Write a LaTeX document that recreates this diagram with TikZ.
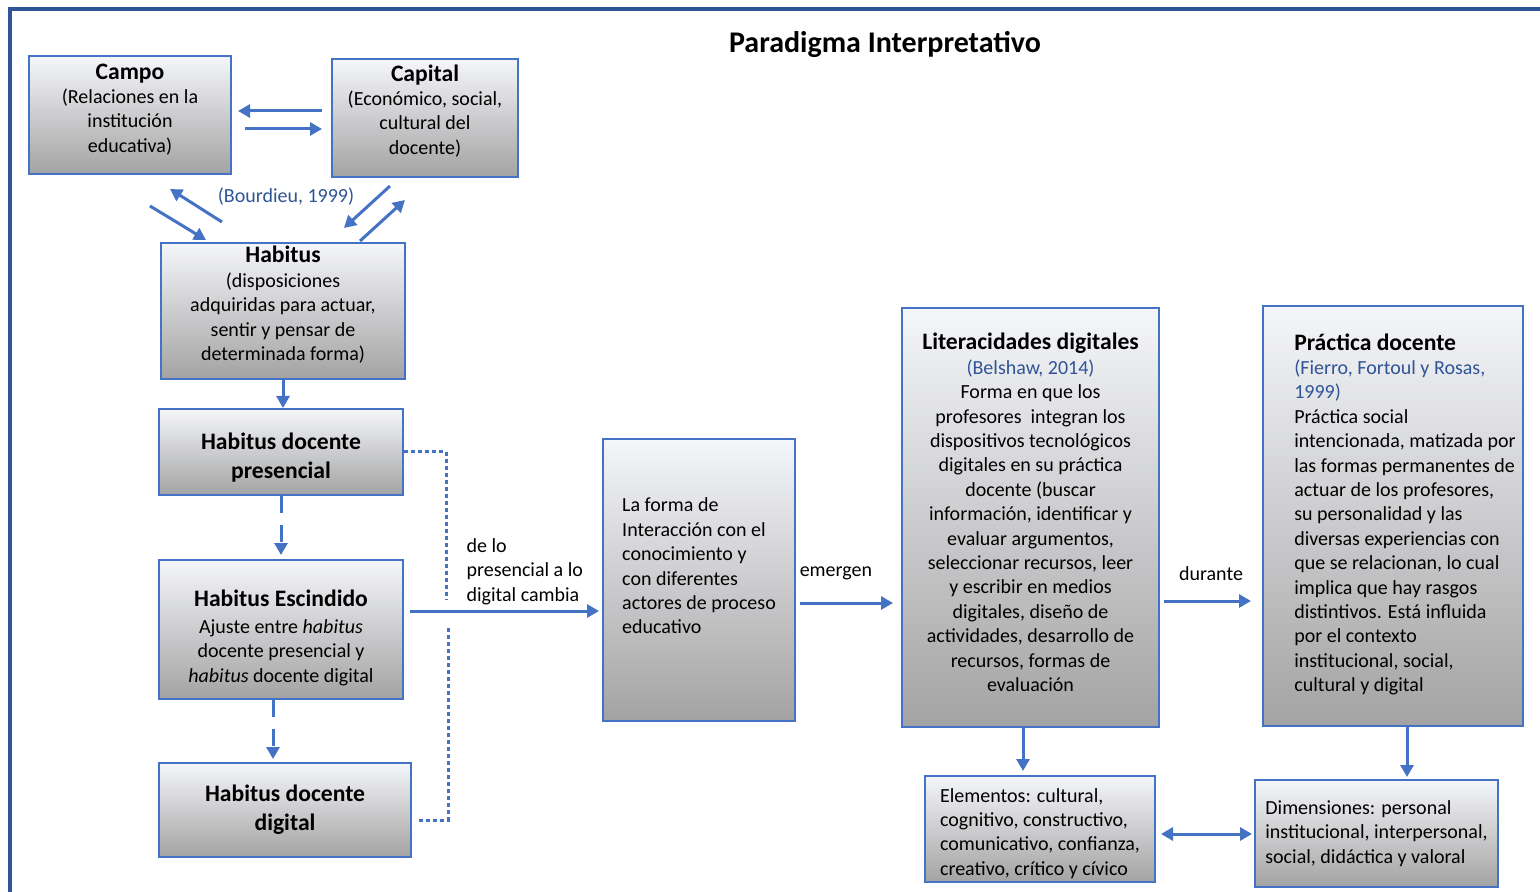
\documentclass[tikz,border=0pt]{standalone}
\usepackage{fontspec}
\setmainfont{Carlito}
\usetikzlibrary{arrows.meta}
\definecolor{frameblue}{HTML}{2F5597}
\definecolor{lineblue}{HTML}{4472C4}
\definecolor{citeblue}{HTML}{2F5597}
\definecolor{shadetop}{HTML}{F5F6FA}
\definecolor{shadebot}{HTML}{A3A3A3}
\newcommand{\boxtitle}[1]{{\bfseries\fontsize{11.8}{14}\selectfont #1}}
\tikzset{
  box/.style={draw=lineblue,line width=1pt,top color=shadetop,bottom color=shadebot,
    inner sep=0pt,font=\fontsize{10}{12.2}\selectfont},
  bigbold/.style={font=\bfseries\fontsize{11.8}{14.5}\selectfont},
  arr/.style={->,lineblue,line width=1.5pt},
  dasharr/.style={arr,dash pattern=on 8.5pt off 6pt},
  dotline/.style={lineblue,line width=1.5pt,dash pattern=on 2pt off 1.5pt},
  lbl/.style={inner sep=0pt,text=black,font=\fontsize{10}{12.2}\selectfont},
}
\begin{document}
\begin{tikzpicture}[x=0.5pt,y=-0.5pt,>={Triangle[length=6pt,width=6.5pt]}]
\useasboundingbox (0,0) rectangle (1540,892);
\draw[frameblue,line width=2pt] (9.5,900) -- (9.5,9.5) -- (1550,9.5);
\node[font=\bfseries\fontsize{15}{18}\selectfont] (title) at (885,45) {Paradigma Interpretativo};
% Bourdieu
\node[box,minimum width=101pt,minimum height=59pt,align=center,text depth=7pt] (campo) at (130,115)
  {\boxtitle{Campo}\\(Relaciones en la\\institución\\educativa)};
\node[box,minimum width=93pt,minimum height=59pt,align=center,text depth=8.5pt] (capital) at (425,118)
  {\boxtitle{Capital}\\(Económico, social,\\cultural del\\docente)};
\node[box,minimum width=122pt,minimum height=68pt,align=center,text depth=7.5pt] (habitus) at (283,311)
  {\boxtitle{Habitus}\\(disposiciones\\adquiridas para actuar,\\sentir y pensar de\\determinada forma)};
\node[lbl,text=citeblue] (bourdieu) at (286,197) {(Bourdieu, 1999)};
% habitus docente
\node[box,bigbold,minimum width=122pt,minimum height=43pt,align=center] (hdpres) at (281,452)
  {\rule{0pt}{13.8pt}Habitus docente\\presencial};
\node[box,minimum width=122pt,minimum height=69.5pt,align=center] (hesc) at (281,629.5)
  {\rule{0pt}{16.7pt}\boxtitle{Habitus Escindido}\\[1pt]Ajuste entre \textit{habitus}\\docente presencial y\\\textit{habitus} docente digital};
\node[box,bigbold,minimum width=126pt,minimum height=47pt,align=center] (hdig) at (285,810)
  {Habitus docente\\digital};
% right part
\node[box,minimum width=96pt,minimum height=141pt,align=left,text depth=14pt] (forma) at (699,580)
  {La forma de\\Interacción con el\\conocimiento y\\con diferentes\\actores de proceso\\educativo};
\node[box,minimum width=128.5pt,minimum height=209.5pt,align=center,text depth=5pt] (liter) at (1030.5,517.5)
  {\boxtitle{Literacidades digitales}\\\textcolor{citeblue}{(Belshaw, 2014)}\\Forma en que los\\profesores\ \ integran los\\dispositivos tecnológicos\\digitales en su práctica\\docente (buscar\\información, identificar y\\evaluar argumentos,\\seleccionar recursos, leer\\y escribir en medios\\digitales, diseño de\\actividades, desarrollo de\\recursos, formas de\\evaluación};
\node[box,minimum width=130pt,minimum height=210pt] (practica) at (1393,516)
  {\begin{tabular}{@{\hspace{12pt}}l@{}}
  \boxtitle{Práctica docente}\\\textcolor{citeblue}{(Fierro, Fortoul y Rosas,}\\\textcolor{citeblue}{1999)}\\Práctica social\\intencionada, matizada por\\las formas permanentes de\\actuar de los profesores,\\su personalidad y las\\diversas experiencias con\\que se relacionan, lo cual\\implica que hay rasgos\\distintivos. Está influida\\por el contexto\\institucional, social,\\cultural y digital
  \end{tabular}};
\node[box,minimum width=115pt,minimum height=53pt,align=left] (elem) at (1040,829)
  {\rule{0pt}{11.4pt}Elementos: cultural,\\cognitivo, constructivo,\\comunicativo, confianza,\\creativo, crítico y cívico};
\node[box,minimum width=121.5pt,minimum height=53.5pt,align=left] (dimen) at (1376.5,833.5)
  {Dimensiones: personal\\institucional, interpersonal,\\social, didáctica y valoral};
% free ends
\coordinate (hb1) at (222,222);
\coordinate (cb1) at (170,189);
\coordinate (cb2) at (150,206);
\coordinate (hb2) at (206,240);
\coordinate (kb1) at (390,186);
\coordinate (hb3) at (344,228);
\coordinate (hb4) at (360,241);
\coordinate (kb2) at (405,200);
\coordinate (dot1) at (446,600);
\coordinate (dot2) at (448,628);
% connectors
\draw[arr,shorten <=4.5pt,shorten >=3pt] (capital.west |- 0,111) -- (campo.east |- 0,111);
\draw[arr,shorten <=6.5pt,shorten >=4.5pt] (campo.east |- 0,129) -- (capital.west |- 0,129);
\draw[arr] (hb1) -- (cb1);
\draw[arr] (cb2) -- (hb2);
\draw[arr] (kb1) -- (hb3);
\draw[arr] (hb4) -- (kb2);
\draw[arr] (habitus.south) -- (habitus.south |- hdpres.north);
\draw[dasharr,shorten >=2pt] (hdpres.south) -- (hesc.north);
\draw[dasharr,shorten >=1.5pt] ([xshift=-4pt]hesc.south) -- ([xshift=-4pt]hesc.south |- hdig.north);
\draw[dotline] (hdpres.east) -| (dot1);
\draw[dotline,shorten >=2pt] (dot2) |- ([yshift=-5pt]hdig.east);
\draw[arr,shorten <=3pt,shorten >=1.5pt] (hesc.east |- 0,611) -- (forma.west |- 0,611)
  node[lbl,pos=0.61,above=2.5pt,align=left] (cambia) {de lo\\presencial a lo\\digital cambia};
\draw[arr,shorten <=2pt,shorten >=4pt] (forma.east |- 0,603) -- (liter.west |- 0,603)
  node[lbl,pos=0.38,above=11pt] (emergen) {emergen};
\draw[arr,shorten <=2pt,shorten >=5.5pt] (liter.east |- 0,601) -- (practica.west |- 0,601)
  node[lbl,pos=0.5,above=9.5pt] (durante) {durante};
\draw[arr,shorten >=2pt] ([xshift=-3.75pt]liter.south) -- ([xshift=-3.75pt]liter.south |- elem.north);
\draw[arr,shorten >=1pt] ([xshift=7pt]practica.south) -- ([xshift=7pt]practica.south |- dimen.north);
\draw[arr,<->,shorten <=2.5pt,shorten >=1pt] (elem.east |- 0,834) -- (dimen.west |- 0,834);
\end{tikzpicture}
\end{document}
